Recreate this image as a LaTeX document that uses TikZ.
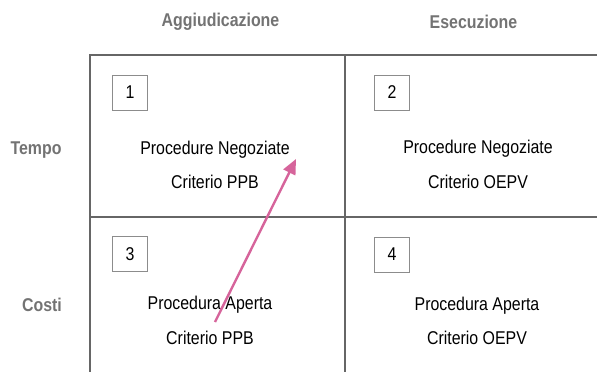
\documentclass[tikz,border=0pt]{standalone}
\usepackage{fontspec}
\setmainfont{Liberation Sans}
\newfontfamily\narrowf[FakeStretch=0.86]{Liberation Sans}
\newfontfamily\narrowbf[FakeStretch=0.86]{Liberation Sans Bold}
\usetikzlibrary{arrows.meta}
\definecolor{gridc}{HTML}{666666}
\definecolor{boxc}{HTML}{8C8C8C}
\definecolor{headc}{HTML}{737373}
\definecolor{pinkc}{HTML}{D6649B}
\tikzset{
  gridline/.style={draw=gridc, line width=1.4pt},
  numbox/.style={draw=boxc, line width=0.9pt, minimum width=35pt, minimum height=35pt, inner sep=0pt, font=\narrowf\fontsize{18.5}{22}\selectfont, text=black},
  celltxt/.style={font=\narrowf\fontsize{18.5}{22}\selectfont, text=black, inner sep=0pt},
  headtxt/.style={font=\narrowbf\fontsize{18.5}{22}\selectfont, text=headc, inner sep=0pt},
  pinkarrow/.style={draw=pinkc, line width=2.4pt, -{Triangle[length=15pt, width=13pt]}}
}
\begin{document}
\begin{tikzpicture}[x=1pt,y=-1pt]
\useasboundingbox (0,0) rectangle (597,372);
% grid
\draw[gridline] (597,55) -- (90,55) -- (90,372);
\draw[gridline] (90,217) -- (597,217);
\draw[gridline] (345,55) -- (345,372);
% headers
\node[headtxt] (hA) at (220.5,22) {Aggiudicazione};
\node[headtxt] (hE) at (473.5,22) {Esecuzione};
\node[headtxt] (hT) at (36,150) {Tempo};
\node[headtxt] (hC) at (42,305) {Costi};
% number boxes
\node[numbox] (b1) at (130,92.5) {1};
\node[numbox] (b2) at (392,92.5) {2};
\node[numbox] (b3) at (130,254) {3};
\node[numbox] (b4) at (392,254.5) {4};
% cell texts
\node[celltxt] (t1a) at (215,150) {Procedure Negoziate};
\node[celltxt] (t1b) at (215,182) {Criterio PPB};
\node[celltxt] (t2a) at (478,149) {Procedure Negoziate};
\node[celltxt] (t2b) at (478,182) {Criterio OEPV};
\node[celltxt] (t3a) at (210,305) {Procedura Aperta};
\node[celltxt] (t3b) at (210,338) {Criterio PPB};
\node[celltxt] (t4a) at (477,306) {Procedura Aperta};
\node[celltxt] (t4b) at (477,338) {Criterio OEPV};
% arrow
\coordinate (as) at (215,322);
\coordinate (ae) at (296,159);
\draw[pinkarrow] (as) -- (ae);
\end{tikzpicture}
\end{document}
